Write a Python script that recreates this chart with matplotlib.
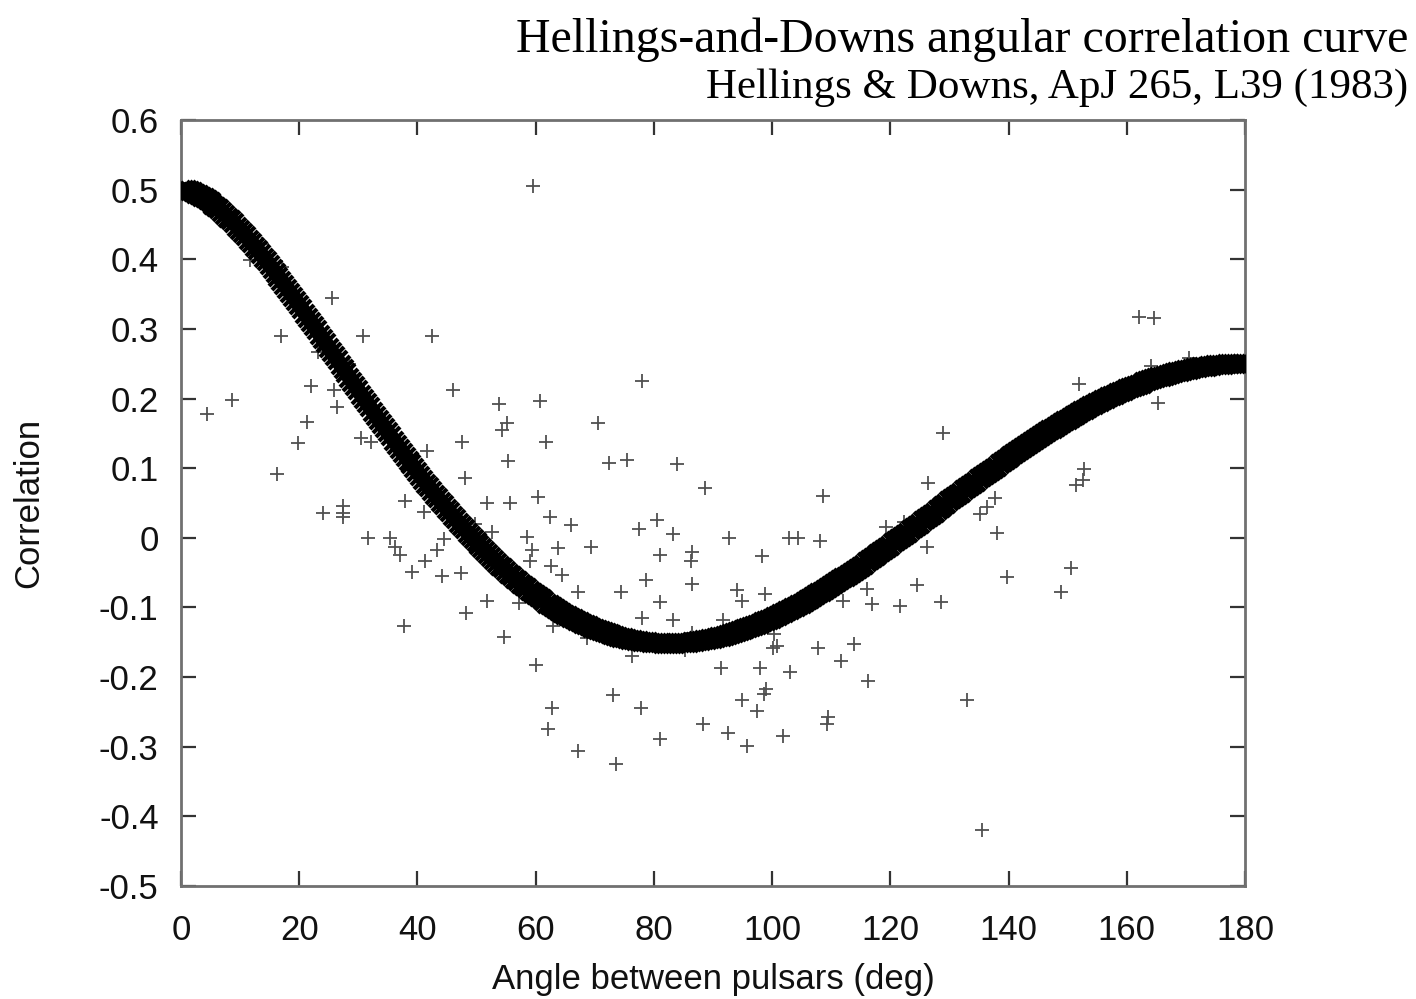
import numpy as np
import matplotlib
matplotlib.use("Agg")
import matplotlib.pyplot as plt

# Pulsar-pair correlation measurements: angular separation (deg) and correlation
pair_angle = [
    4.40, 8.63, 11.67, 13.70, 17.09, 16.92, 16.24, 19.79, 21.32, 21.99,
    23.18, 24.02, 25.55, 25.88, 26.39, 27.41, 27.41, 27.41, 28.42, 30.45,
    30.79, 31.64, 32.14, 35.36, 36.20, 37.05, 37.73, 37.90, 39.08, 41.11,
    41.62, 42.46, 41.28, 43.31, 44.15, 44.49, 46.02, 47.37, 47.54, 48.05,
    48.22, 49.74, 51.77, 51.77, 52.61, 53.80, 55.15, 54.31, 54.64, 55.32,
    55.66, 57.18, 58.53, 59.38, 59.04, 59.55, 60.06, 60.40, 60.73, 61.75,
    62.09, 62.60, 62.43, 62.76, 62.93, 63.78, 64.46, 65.98, 67.16, 67.16,
    68.69, 69.36, 70.55, 72.41, 73.08, 73.59, 74.44, 75.45, 76.30, 77.48,
    77.99, 77.99, 77.82, 78.67, 80.53, 81.04, 81.04, 81.04, 83.24, 83.24,
    83.91, 85.26, 86.45, 86.45, 86.28, 86.45, 88.31, 88.65, 91.36, 91.69,
    92.54, 92.71, 94.06, 94.91, 94.91, 95.75, 97.45, 97.95, 98.29, 98.97,
    98.63, 98.80, 100.32, 100.83, 100.15, 101.84, 103.03, 102.86, 104.38, 107.76,
    108.10, 108.61, 109.46, 109.29, 111.99, 111.66, 113.86, 116.05, 116.22, 116.90,
    119.27, 121.64, 122.32, 124.51, 126.21, 126.38, 128.57, 128.91, 132.97, 135.17,
    135.51, 136.36, 137.71, 138.05, 139.74, 148.87, 150.57, 151.41, 151.92, 152.60,
    152.77, 162.07, 164.61, 164.10, 165.28, 170.53,
]
pair_corr = [
    0.178, 0.198, 0.399, 0.422, 0.389, 0.290, 0.092, 0.136, 0.167, 0.218,
    0.267, 0.036, 0.345, 0.212, 0.188, 0.046, 0.036, 0.030, 0.250, 0.144,
    0.290, 0.000, 0.138, 0.000, -0.013, -0.025, -0.126, 0.053, -0.049, 0.037,
    0.125, 0.290, -0.033, -0.018, -0.055, -0.002, 0.212, -0.051, 0.138, 0.086,
    -0.108, 0.020, 0.050, -0.091, 0.008, 0.192, 0.165, 0.155, -0.142, 0.110,
    0.050, -0.094, 0.001, -0.017, -0.033, 0.505, -0.183, 0.059, 0.196, 0.138,
    -0.275, -0.040, 0.030, -0.244, -0.127, -0.015, -0.054, 0.018, -0.306, -0.078,
    -0.144, -0.013, 0.165, 0.107, -0.226, -0.325, -0.078, 0.112, -0.169, 0.013,
    -0.115, 0.225, -0.245, -0.061, 0.026, -0.289, -0.092, -0.025, -0.118, 0.005,
    0.106, -0.161, -0.020, -0.066, -0.033, -0.137, -0.267, 0.072, -0.187, -0.118,
    -0.280, 0.000, -0.075, -0.233, -0.091, -0.299, -0.249, -0.187, -0.026, -0.217,
    -0.224, -0.081, -0.138, -0.155, -0.158, -0.285, -0.193, 0.000, 0.000, -0.158,
    -0.005, 0.060, -0.257, -0.267, -0.091, -0.177, -0.153, -0.074, -0.206, -0.095,
    0.016, -0.098, 0.023, -0.068, -0.013, 0.079, -0.092, 0.151, -0.233, 0.034,
    -0.420, 0.044, 0.057, 0.007, -0.056, -0.078, -0.043, 0.076, 0.221, 0.083,
    0.099, 0.317, 0.316, 0.247, 0.193, 0.258,
]

x_ticks = [0, 20, 40, 60, 80, 100, 120, 140, 160, 180]
y_ticks = [0.6, 0.5, 0.4, 0.3, 0.2, 0.1, 0.0, -0.1, -0.2, -0.3, -0.4, -0.5]


def hellings_downs(theta_deg):
    """Expected correlation for an isotropic GW background."""
    xi = (1.0 - np.cos(np.radians(theta_deg))) / 2.0
    xlogx = np.where(xi > 0, xi * np.log(np.where(xi > 0, xi, 1.0)), 0.0)
    return 1.5 * xlogx - 0.25 * xi + 0.5


theta = np.linspace(0, 180, 361)
gamma = hellings_downs(theta)

fig = plt.figure(figsize=(14.16, 9.99), dpi=100)
ax = fig.add_axes([0.1278, 0.1131, 0.7514, 0.7668])

ax.plot(pair_angle, pair_corr, linestyle="none", marker="+", markersize=10,
        markeredgewidth=1.3, color="#505050", zorder=2)
ax.plot(theta, gamma, linestyle="-", linewidth=11, color="#000000",
        marker="x", markersize=13, markeredgewidth=3, markevery=1,
        solid_capstyle="butt", zorder=3)

ax.set_xlim(0, 180)
ax.set_ylim(-0.5, 0.6)
ax.set_xticks(x_ticks)
ax.set_yticks(y_ticks)
ax.set_xticklabels([str(t) for t in x_ticks])
ax.set_yticklabels([("%g" % t) if t != 0 else "0" for t in y_ticks])

label_font = dict(family="Liberation Sans", size=25)
for lab in ax.get_xticklabels() + ax.get_yticklabels():
    lab.set_fontfamily("Liberation Sans")
    lab.set_fontsize(25)
    lab.set_color("#111111")

ax.tick_params(direction="in", length=11, width=1.6, color="#333333",
               top=True, right=True)
ax.tick_params(axis="y", pad=16)
ax.tick_params(axis="x", pad=20)
for spine in ax.spines.values():
    spine.set_linewidth(2.0)
    spine.set_color("#707070")

ax.set_xlabel("Angle between pulsars (deg)", fontdict=label_font,
              color="#111111", labelpad=12)
ax.set_ylabel("Correlation", fontdict=label_font, color="#111111", labelpad=39)

fig.text(0.9944, 0.960, "Hellings-and-Downs angular correlation curve",
         ha="right", va="center", family="Liberation Serif", size=34.5,
         color="#000000")
fig.text(0.9944, 0.912, "Hellings & Downs, ApJ 265, L39 (1983)",
         ha="right", va="center", family="Liberation Serif", size=31,
         color="#000000")

fig.savefig("out.png", dpi=100, facecolor="white")
